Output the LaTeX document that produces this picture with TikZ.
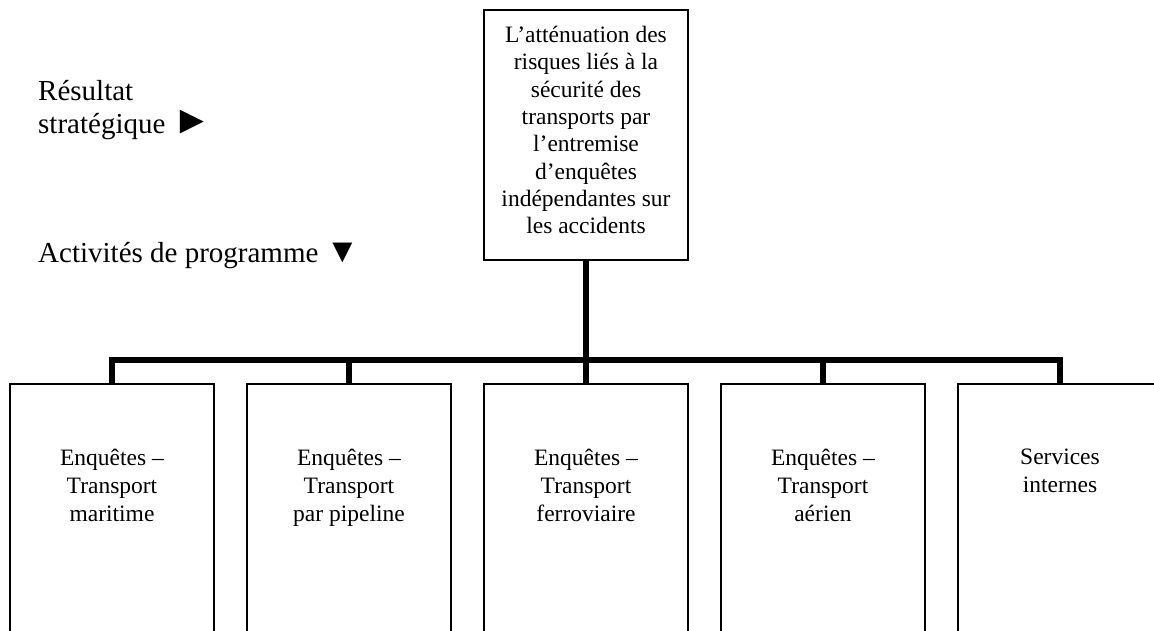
\documentclass[tikz,border=0pt]{standalone}
\usepackage{fontspec}
\setmainfont{Liberation Serif}
\begin{document}
\begin{tikzpicture}[x=1pt,y=-1pt,
  box/.style={draw=black, line width=1.8pt, minimum width=204pt, inner sep=0pt, anchor=north},
  lowbox/.style={box, minimum height=262pt},
  boxtext/.style={align=center, anchor=north, inner sep=0pt, font=\fontsize{23.5}{28}\selectfont},
  sidelabel/.style={align=left, anchor=north west, inner sep=0pt, font=\fontsize{29}{33.3}\selectfont},
  conn/.style={line width=5.5pt, line join=miter}]
\useasboundingbox (0,0) rectangle (1154,630);
\clip (0,0) rectangle (1154,630);

% top box
\node[box, minimum height=250pt] (top) at (586,9) {};
\node[boxtext, font=\fontsize{23.5}{27.3}\selectfont] (toptext) at (586,26)
  {L’atténuation des\\risques liés à la\\sécurité des\\transports par\\l’entremise\\d’enquêtes\\indépendantes sur\\les accidents};

% side labels
\node[sidelabel] (res) at (38,80) {Résultat\\stratégique {\fontsize{40}{33.3}\selectfont ►}};
\node[sidelabel] (act) at (38,242) {Activités de programme {\fontsize{34}{33.3}\selectfont ▼}};

% lower boxes
\node[lowbox] (b1) at (112,383) {};
\node[lowbox] (b2) at (349,383) {};
\node[lowbox] (b3) at (586,383) {};
\node[lowbox] (b4) at (823,383) {};
\node[lowbox] (b5) at (1060,383) {};

\node[boxtext] (t1) at (112,449) {Enquêtes –\\Transport\\maritime};
\node[boxtext] (t2) at (349,449) {Enquêtes –\\Transport\\par pipeline};
\node[boxtext] (t3) at (586,449) {Enquêtes –\\Transport\\ferroviaire};
\node[boxtext] (t4) at (823,449) {Enquêtes –\\Transport\\aérien};
\node[boxtext] (t5) at (1060,449) {Services\\internes};

% connectors
\coordinate (bus) at (586,360);
\draw[conn] (top.south) -- (b3.north);
\draw[conn] (b1.north) -- (b1.north |- bus) -- (b5.north |- bus) -- (b5.north);
\draw[conn] (b2.north) -- (b2.north |- bus);
\draw[conn] (b4.north) -- (b4.north |- bus);
\end{tikzpicture}
\end{document}
